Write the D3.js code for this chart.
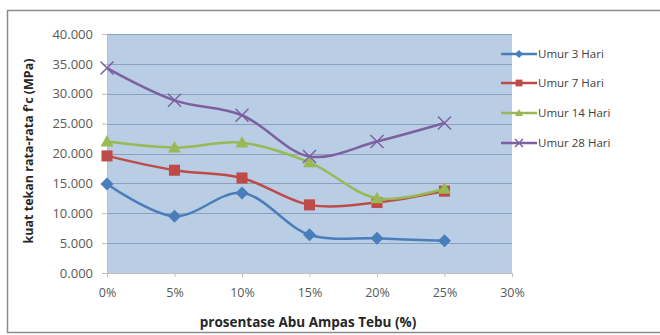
<!DOCTYPE html>
<html>
<head>
<meta charset="utf-8">
<script src="https://cdn.jsdelivr.net/npm/d3@7/dist/d3.min.js"></script>
<style>
  html, body { margin: 0; padding: 0; background: #fff; }
  svg { display: block; }
  text { font-family: "Open Sans", "Liberation Sans", sans-serif; }
</style>
</head>
<body>
<script>
// Percentage of sugarcane bagasse ash (as fraction) and compressive strengths (MPa)
const ashRatio = [0, 0.05, 0.10, 0.15, 0.20, 0.25];
const day3  = [14.9, 9.5, 13.4, 6.4, 5.8, 5.4];
const day7  = [19.6, 17.2, 15.9, 11.4, 11.8, 13.7];
const day14 = [22.0, 21.0, 21.8, 18.5, 12.5, 14.1];
const day28 = [34.3, 28.9, 26.4, 19.5, 22.0, 25.1];
const seriesNames = ["Umur 3 Hari", "Umur 7 Hari", "Umur 14 Hari", "Umur 28 Hari"];
const seriesColors = ["#4a7ebb", "#be4b48", "#98b954", "#7d60a0"];
const seriesShapes = ["diamond", "square", "triangle", "cross"];
const xTicks = [0, 0.05, 0.10, 0.15, 0.20, 0.25, 0.30];
const yTicks = [0, 5, 10, 15, 20, 25, 30, 35, 40];

const W = 660, H = 335;
const plot = { left: 107, right: 512, top: 34, bottom: 273 };

const svg = d3.select("body").append("svg").attr("width", W).attr("height", H);

// chart frame
svg.append("rect").attr("x", 7.5).attr("y", 10.5).attr("width", 660).attr("height", 322)
  .attr("fill", "#fff").attr("stroke", "#8c8c8c").attr("stroke-width", 1.5);

const x = d3.scaleLinear().domain([0, 0.30]).range([plot.left, plot.right]);
const y = d3.scaleLinear().domain([0, 40]).range([plot.bottom, plot.top]);

// plot area
svg.append("rect").attr("x", plot.left).attr("y", plot.top)
  .attr("width", plot.right - plot.left).attr("height", plot.bottom - plot.top)
  .attr("fill", "#b9cde5");

// horizontal gridlines
svg.append("g").selectAll("line").data(yTicks.filter(d => d > 0)).join("line")
  .attr("x1", plot.left).attr("x2", plot.right)
  .attr("y1", d => Math.round(y(d)) + 0.5).attr("y2", d => Math.round(y(d)) + 0.5)
  .attr("stroke", "#8aa2bf").attr("stroke-width", 1);

// y axis
const yAxis = d3.axisLeft(y).tickValues(yTicks).tickFormat(d3.format(".3f")).tickSize(5).tickPadding(9);
const gy = svg.append("g").attr("transform", `translate(${plot.left},0)`).call(yAxis);
gy.select(".domain").attr("stroke", "#bfbfbf");
gy.selectAll(".tick line").attr("stroke", "#bfbfbf");
gy.selectAll("text").attr("fill", "#595959").style("font-size", "13px");

// x axis
const xAxis = d3.axisBottom(x).tickValues(xTicks).tickFormat(d3.format(".0%")).tickSize(4).tickPadding(11);
const gx = svg.append("g").attr("transform", `translate(0,${plot.bottom})`).call(xAxis);
gx.select(".domain").attr("stroke", "#bfbfbf");
gx.selectAll(".tick line").attr("stroke", "#bfbfbf");
gx.selectAll("text").attr("fill", "#595959").style("font-size", "12.5px");

// axis titles
svg.append("text").attr("x", 308).attr("y", 327).attr("text-anchor", "middle")
  .attr("font-weight", "bold").attr("font-size", 13.5).attr("fill", "#262626")
  .text("prosentase Abu Ampas Tebu (%)");
svg.append("text").attr("transform", "translate(33,151) rotate(-90)").attr("text-anchor", "middle")
  .attr("font-weight", "bold").attr("font-size", 12.5).attr("fill", "#262626")
  .text("kuat tekan rata-rata f'c (MPa)");

const allSeries = [day3, day7, day14, day28];
const line = d3.line().x(d => x(d[0])).y(d => y(d[1])).curve(d3.curveCatmullRom.alpha(0.5));

function marker(g, shape, color, size) {
  const s = size;
  if (shape === "diamond") {
    g.append("path").attr("d", `M0,${-s}L${s},0L0,${s}L${-s},0Z`).attr("fill", color);
  } else if (shape === "square") {
    g.append("rect").attr("x", -s * 0.85).attr("y", -s * 0.85).attr("width", s * 1.7).attr("height", s * 1.7).attr("fill", color);
  } else if (shape === "triangle") {
    g.append("path").attr("d", `M0,${-s}L${s},${s * 0.75}L${-s},${s * 0.75}Z`).attr("fill", color);
  } else {
    g.append("path").attr("d", `M${-s},${-s}L${s},${s}M${-s},${s}L${s},${-s}`)
      .attr("stroke", color).attr("stroke-width", 1.5).attr("fill", "none");
  }
}

allSeries.forEach((vals, i) => {
  const pts = ashRatio.map((r, j) => [r, vals[j]]);
  const g = svg.append("g");
  g.append("path").attr("d", line(pts)).attr("fill", "none")
    .attr("stroke", seriesColors[i]).attr("stroke-width", 2.5);
  g.selectAll("g").data(pts).join("g")
    .attr("transform", d => `translate(${x(d[0])},${y(d[1])})`)
    .each(function () { marker(d3.select(this), seriesShapes[i], seriesColors[i], 6.5); });
});

// legend
const legY = [54, 83, 113, 143];
seriesNames.forEach((name, i) => {
  const g = svg.append("g").attr("transform", `translate(0,${legY[i]})`);
  g.append("line").attr("x1", 501).attr("x2", 537).attr("y1", 0).attr("y2", 0)
    .attr("stroke", seriesColors[i]).attr("stroke-width", 2.5);
  const mg = g.append("g").attr("transform", "translate(519,0)");
  marker(mg, seriesShapes[i], seriesColors[i], 4);
  g.append("text").attr("x", 538).attr("y", 4).attr("font-size", 11.5).attr("fill", "#404040").text(name);
});
</script>
</body>
</html>
